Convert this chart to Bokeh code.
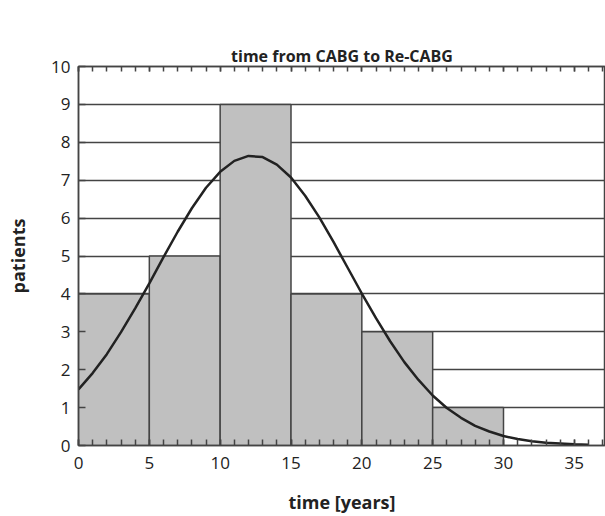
from bokeh.plotting import figure
from bokeh.models import Range1d, LinearAxis, SingleIntervalTicker, Title
from bokeh.embed import file_html
from bokeh.resources import INLINE

# histogram bins (years) and counts (patients)
bin_left = [0, 5, 10, 15, 20, 25]
bin_right = [5, 10, 15, 20, 25, 30]
counts = [4, 5, 9, 4, 3, 1]

# fitted normal curve
curve_x = list(range(0, 37))
curve_y = [1.48, 1.91, 2.41, 2.99, 3.62, 4.28, 4.97, 5.64, 6.26, 6.80, 7.22, 7.51,
           7.64, 7.61, 7.41, 7.07, 6.59, 6.02, 5.37, 4.69, 4.01, 3.36, 2.75, 2.20,
           1.73, 1.32, 0.99, 0.73, 0.52, 0.37, 0.25, 0.17, 0.11, 0.07, 0.05, 0.03, 0.02]

TITLE = "time from CABG to Re-CABG"
FONT = "Open Sans"
DARK = "#444444"

p = figure(width=605, height=516, output_backend="svg", toolbar_location=None,
           x_range=Range1d(0, 37.2), y_range=Range1d(0, 10),
           x_axis_location=None, y_axis_location=None,
           min_border_left=78, min_border_right=0, min_border_top=66, min_border_bottom=71)
p.outline_line_color = DARK
p.outline_line_width = 1.5
p.xgrid.visible = False
p.background_fill_color = "white"

# axes
xax = LinearAxis(ticker=SingleIntervalTicker(interval=5, num_minor_ticks=5))
yax = LinearAxis(ticker=SingleIntervalTicker(interval=1, num_minor_ticks=0))
tax = LinearAxis(ticker=SingleIntervalTicker(interval=5, num_minor_ticks=5))
p.add_layout(xax, "below")
p.add_layout(yax, "left")
p.add_layout(tax, "above")

for ax in (xax, yax, tax):
    ax.axis_line_color = DARK
    ax.axis_line_width = 1.5
    ax.major_tick_line_color = DARK
    ax.minor_tick_line_color = DARK
    ax.major_tick_line_width = 1.5
    ax.minor_tick_line_width = 1.5
    ax.major_tick_out = 0
    ax.minor_tick_out = 0
    ax.major_label_text_font = FONT
    ax.major_label_text_font_size = "17px"
    ax.major_label_text_color = "#222222"
    ax.major_label_text_line_height = 1.0
    ax.axis_label_text_font = FONT
    ax.axis_label_text_font_size = "18px"
    ax.axis_label_text_font_style = "bold"
    ax.axis_label_text_color = "#222222"
    ax.axis_label_text_line_height = 1.0

xax.major_tick_in = 6
xax.minor_tick_in = 6
xax.major_label_standoff = 11
xax.axis_label = "time [years]"
xax.axis_label_standoff = 18

yax.major_tick_in = 7
yax.major_label_standoff = 8
yax.axis_label = "patients"
yax.axis_label_standoff = 18

# top axis: ticks only; its invisible labels reserve space so the title sits higher
tax.major_tick_in = 5
tax.minor_tick_in = 5
tax.major_label_text_alpha = 0
tax.major_label_text_font_size = "1px"
tax.major_label_standoff = 25

p.ygrid.ticker = SingleIntervalTicker(interval=1)
p.ygrid.grid_line_color = DARK
p.ygrid.grid_line_width = 1.5

p.title = Title(text=TITLE, align="center",
                text_font=FONT, text_font_size="16px", text_font_style="bold",
                text_color="#222222", standoff=0)

p.quad(left=bin_left, right=bin_right, top=counts, bottom=0,
       fill_color="#c0c0c0", line_color=DARK, line_width=1.5)

p.line(curve_x, curve_y, line_color="#222222", line_width=2.5)

open("out.html", "w").write(file_html(p, INLINE))
